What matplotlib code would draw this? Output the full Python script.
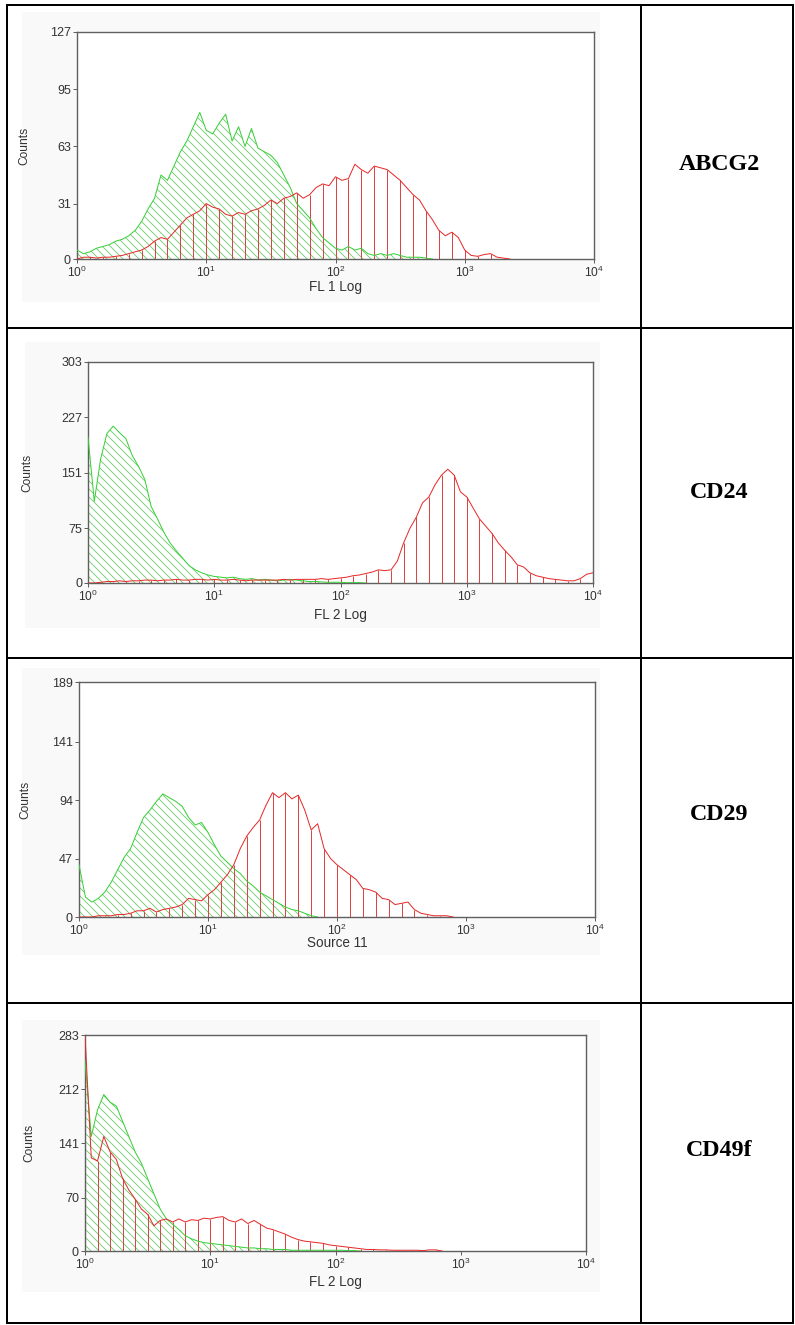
import numpy as np
import matplotlib
matplotlib.use("Agg")
import matplotlib.pyplot as plt
from matplotlib.ticker import NullLocator
from matplotlib.patches import Rectangle
from matplotlib.lines import Line2D

plt.rcParams['font.family'] = ['Liberation Sans', 'DejaVu Sans']
plt.rcParams['mathtext.fontset'] = 'custom'
plt.rcParams['mathtext.rm'] = 'Liberation Sans'
plt.rcParams['mathtext.it'] = 'Liberation Sans'
plt.rcParams['hatch.linewidth'] = 0.8
plt.rcParams['hatch.color'] = '#5cc85c'

# ---------------- data (counts per channel, channels every 0.05 decade from 10^0) ----
LOG_STEP = 0.05

ABCG2_GREEN = [5, 3, 4, 6, 7, 8, 10, 11, 13, 16, 21, 28, 34, 47, 44, 52, 60, 66, 74, 82,
               72, 70, 76, 81, 66, 74, 63, 73, 62, 60, 58, 54, 47, 40, 31, 27, 23, 17, 12, 9,
               6, 5, 7, 5, 6, 3, 2, 3, 2, 3, 2, 1, 1, 1, 0.5, 0]
ABCG2_RED = [0, 1, 1, 0.5, 1, 1, 1.5, 2, 3, 4, 5, 7, 10, 12, 11, 15, 19, 23, 25, 27,
             31, 29, 28, 25, 24, 26, 25, 27, 28, 30, 33, 31, 34, 35, 37, 34, 36, 40, 42, 41,
             46, 44, 45, 53, 50, 48, 52, 51, 50, 47, 44, 40, 36, 33, 27, 22, 16, 13, 15, 12,
             5, 2, 1.5, 2.5, 3, 1, 0.5, 0]

CD24_GREEN = [200, 112, 170, 205, 215, 206, 198, 175, 160, 142, 105, 88, 70, 55, 44, 34, 24, 18, 14, 11,
              9, 8, 7, 8, 6, 5, 6, 4, 5, 4, 3, 4, 5, 4, 3, 2, 2, 1.5, 1, 1,
              1, 0.5, 0.5, 0.5, 0]
CD24_RED = [0, 0, 1, 2, 2, 3, 2, 3, 3, 4, 4, 3, 4, 4, 5, 4, 4, 5, 5, 4,
            5, 4, 4, 5, 4, 3, 4, 4, 4, 4, 4, 5, 4, 5, 5, 5, 5, 6, 5, 6,
            7, 8, 10, 11, 13, 15, 18, 17, 18, 30, 55, 75, 90, 110, 118, 135, 148, 156, 148, 125,
            118, 103, 88, 78, 68, 55, 45, 36, 25, 22, 14, 10, 8, 6, 5, 4, 3, 3, 6, 12, 14]

CD29_GREEN = [42, 16, 12, 15, 20, 28, 38, 48, 55, 68, 80, 86, 93, 99, 96, 93, 89, 80, 74, 76,
              68, 58, 49, 44, 39, 35, 29, 25, 20, 17, 14, 11, 8, 6, 5, 3, 1, 0]
CD29_RED = [0, 0, 0, 1, 1, 1, 2, 2, 3, 5, 5, 7, 4, 6, 7, 8, 10, 15, 14, 13,
            18, 22, 28, 34, 42, 55, 65, 72, 78, 90, 100, 96, 100, 95, 98, 86, 70, 75, 55, 47,
            42, 38, 34, 30, 23, 22, 20, 15, 14, 10, 11, 12, 6, 3, 2, 1, 1, 1, 0]

CD49F_GREEN = [250, 150, 185, 205, 195, 190, 170, 150, 130, 115, 95, 75, 55, 42, 35, 28, 20, 16, 13, 11,
               10, 9, 8, 7, 6, 5, 4, 4, 3, 3, 2, 2, 2, 1, 1, 1, 1, 1, 1, 1,
               1, 1, 0.5, 0.5, 0]
CD49F_RED = [283, 122, 118, 150, 130, 120, 95, 80, 68, 55, 48, 33, 40, 42, 38, 42, 38, 41, 40, 43,
             42, 44, 45, 40, 38, 42, 36, 40, 35, 30, 28, 25, 22, 18, 15, 13, 12, 11, 10, 8,
             7, 6, 5, 4, 3, 2, 2, 1.5, 1.5, 1, 1, 1, 1, 1, 0.5, 1.5, 1.5, 0]

MARKERS = ['ABCG2', 'CD24', 'CD29', 'CD49f']
X_LABELS = ['FL 1 Log', 'FL 2 Log', 'Source 11', 'FL 2 Log']
Y_MAX = [127, 303, 189, 283]
Y_TICKS = [[0, 31, 63, 95, 127], [0, 75, 151, 227, 303], [0, 47, 94, 141, 189], [0, 70, 141, 212, 283]]
X_TICKS = [1, 10, 100, 1000, 10000]
X_TICK_LABELS = [r'$10^{0}$', r'$10^{1}$', r'$10^{2}$', r'$10^{3}$', r'$10^{4}$']
GREEN_SERIES = [ABCG2_GREEN, CD24_GREEN, CD29_GREEN, CD49F_GREEN]
RED_SERIES = [ABCG2_RED, CD24_RED, CD29_RED, CD49F_RED]

# ---------------- layout (pixels) ----------------
W, H = 795, 1325
fig = plt.figure(figsize=(W / 72, H / 72), dpi=72)
fig.patch.set_facecolor('white')

def fx(px):
    return px / W

def fy(py):
    return 1 - py / H

AX_BOX = [(77, 594, 32, 259), (88, 593, 362, 583), (79, 595, 682, 917), (85, 586, 1035, 1251)]
BG_BOX = [(22, 600, 12, 302), (25, 600, 342, 628), (22, 600, 668, 955), (22, 600, 1020, 1292)]
YLAB_X = [30, 33, 31, 35]
XLAB_Y = [287, 615, 943, 1282]
LABEL_Y = [165, 492, 815, 1150]

bg = fig.add_axes([0, 0, 1, 1], zorder=-10)
bg.set_xlim(0, W)
bg.set_ylim(H, 0)
bg.axis('off')
for (l, r, t, b) in BG_BOX:
    bg.add_patch(Rectangle((l, t), r - l, b - t, facecolor='#f9f9f9', edgecolor='none'))

lw_tab = 2.0
tab_col = 'black'
left_x, right_x, top_y, bot_y, mid_x = 7, 793, 5, 1323, 641
rows_y = [328, 658, 1003]
for y in [top_y, bot_y] + rows_y:
    bg.add_line(Line2D([left_x, right_x], [y, y], color=tab_col, lw=lw_tab))
for x in [left_x, right_x, mid_x]:
    bg.add_line(Line2D([x, x], [top_y, bot_y], color=tab_col, lw=lw_tab))

for i, name in enumerate(MARKERS):
    bg.text((mid_x + right_x) / 2 + 2, LABEL_Y[i], name, ha='center', va='center',
            fontsize=24, fontweight='bold', family=['Liberation Serif', 'DejaVu Serif'], color='black')

green_line = '#39cf39'
green_hatch = '#62cc62'
red_line = '#e62a2a'
red_vline = '#dd4444'
axis_col = '#606060'
text_col = '#333333'

for i in range(4):
    l, r, t, b = AX_BOX[i]
    ax = fig.add_axes([fx(l), fy(b), fx(r) - fx(l), (b - t) / H])
    ax.set_facecolor('white')
    g = np.array(GREEN_SERIES[i], dtype=float)
    rd = np.array(RED_SERIES[i], dtype=float)
    xg = 10 ** (np.arange(len(g)) * LOG_STEP)
    xr = 10 ** (np.arange(len(rd)) * LOG_STEP)

    ax.fill_between(xg, 0, g, facecolor='none', edgecolor=green_hatch, hatch='\\\\\\',
                    linewidth=0, zorder=1)
    sel = rd[::2] > 0
    ax.vlines(xr[::2][sel], 0, rd[::2][sel], color=red_vline, lw=1.0, zorder=2)
    ax.plot(xg, g, color=green_line, lw=1.0, zorder=3)
    ax.plot(xr, rd, color=red_line, lw=1.0, zorder=4)

    ax.set_xscale('log')
    ax.set_xlim(1, 10000)
    ax.set_ylim(0, Y_MAX[i])
    ax.set_xticks(X_TICKS)
    ax.set_xticklabels(X_TICK_LABELS)
    ax.xaxis.set_minor_locator(NullLocator())
    ax.set_yticks(Y_TICKS[i])
    ax.set_yticklabels([str(v) for v in Y_TICKS[i]])
    ax.tick_params(axis='both', direction='out', length=4, width=1, color=axis_col,
                   labelcolor=text_col, pad=2)
    ax.tick_params(axis='y', labelsize=12.5)
    ax.tick_params(axis='x', labelsize=12)
    for sp in ax.spines.values():
        sp.set_color(axis_col)
        sp.set_linewidth(1.4)
    ax.set_ylabel('Counts', fontsize=12, color=text_col)
    ax.yaxis.set_label_coords((YLAB_X[i] - l) / (r - l), 0.5)
    ax.set_xlabel(X_LABELS[i], fontsize=13.5, color=text_col)
    ax.xaxis.set_label_coords(0.5, -(XLAB_Y[i] - b) / (b - t))
    ax.xaxis.label.set_va('center')

fig.savefig('out.png', dpi=72, facecolor='white')
